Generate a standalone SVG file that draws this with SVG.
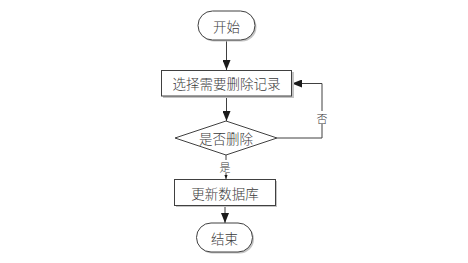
<svg xmlns="http://www.w3.org/2000/svg" width="468" height="263" viewBox="0 0 468 263">
<style>
.shape{fill:#ffffff;stroke:#404040;stroke-width:1}
.shadow{fill:#c4c4c4;stroke:none}
.txt{font-family:"Noto Sans CJK SC","Liberation Sans",sans-serif;font-size:13.5px;font-weight:300;fill:#3a3a3a;text-anchor:middle;dominant-baseline:central}
.lbl{font-family:"Noto Sans CJK SC","Liberation Sans",sans-serif;font-size:11px;font-weight:300;fill:#3a3a3a;text-anchor:middle;dominant-baseline:central}
.conn{fill:none;stroke:#404040;stroke-width:1}
</style>
<defs>
<marker id="arr" viewBox="0 0 10 8" refX="10" refY="4" markerWidth="10" markerHeight="8" markerUnits="userSpaceOnUse" orient="auto">
<path d="M0,0 L10,4 L0,8 Z" fill="#1a1a1a"/>
</marker>
<marker id="arrs" viewBox="0 0 10 8" refX="10" refY="4" markerWidth="4" markerHeight="4" markerUnits="userSpaceOnUse" orient="auto">
<path d="M0,0 L10,4 L0,8 Z" fill="#1a1a1a"/>
</marker>
</defs>
<rect width="468" height="263" fill="#ffffff"/>
<g id="connectors">
<line class="conn" x1="226.5" y1="40" x2="226.5" y2="70" marker-end="url(#arr)"/>
<line class="conn" x1="226.5" y1="96" x2="226.5" y2="121" marker-end="url(#arr)"/>
<polyline class="conn" points="277,138 322,138 322,83.5 292,83.5" marker-end="url(#arr)"/>
<line class="conn" x1="226" y1="155" x2="226" y2="179" marker-end="url(#arrs)"/>
<line class="conn" x1="225" y1="206" x2="225" y2="223" marker-end="url(#arr)"/>
<rect x="316" y="111" width="12" height="13" fill="#ffffff"/>
<text class="lbl" x="322" y="117.5">否</text>
<rect x="219" y="160" width="12" height="13" fill="#ffffff"/>
<text class="lbl" x="225" y="166.5">是</text>
</g>
<g id="start">
<rect class="shadow" x="199.5" y="12.5" width="57" height="29" rx="14.5"/>
<rect class="shape" x="198" y="11" width="57" height="29" rx="14.5"/>
<text class="txt" x="226.5" y="25.5">开始</text>
</g>
<g id="select">
<rect class="shadow" x="163" y="72" width="131" height="26"/>
<rect class="shape" x="161.5" y="70.5" width="130" height="25.5"/>
<text class="txt" x="226.5" y="83">选择需要删除记录</text>
</g>
<g id="decide">
<polygon class="shape" points="226,121 277,138 226,155 175,138"/>
<text class="txt" x="226" y="138">是否删除</text>
</g>
<g id="update">
<rect class="shadow" x="176" y="181" width="101" height="26"/>
<rect class="shape" x="174.5" y="179.5" width="101" height="26"/>
<text class="txt" x="225" y="192.5">更新数据库</text>
</g>
<g id="end">
<rect class="shadow" x="198" y="224.5" width="56" height="29" rx="14.5"/>
<rect class="shape" x="196.5" y="223" width="56" height="29" rx="14.5"/>
<text class="txt" x="224.5" y="237.5">结束</text>
</g>
</svg>
